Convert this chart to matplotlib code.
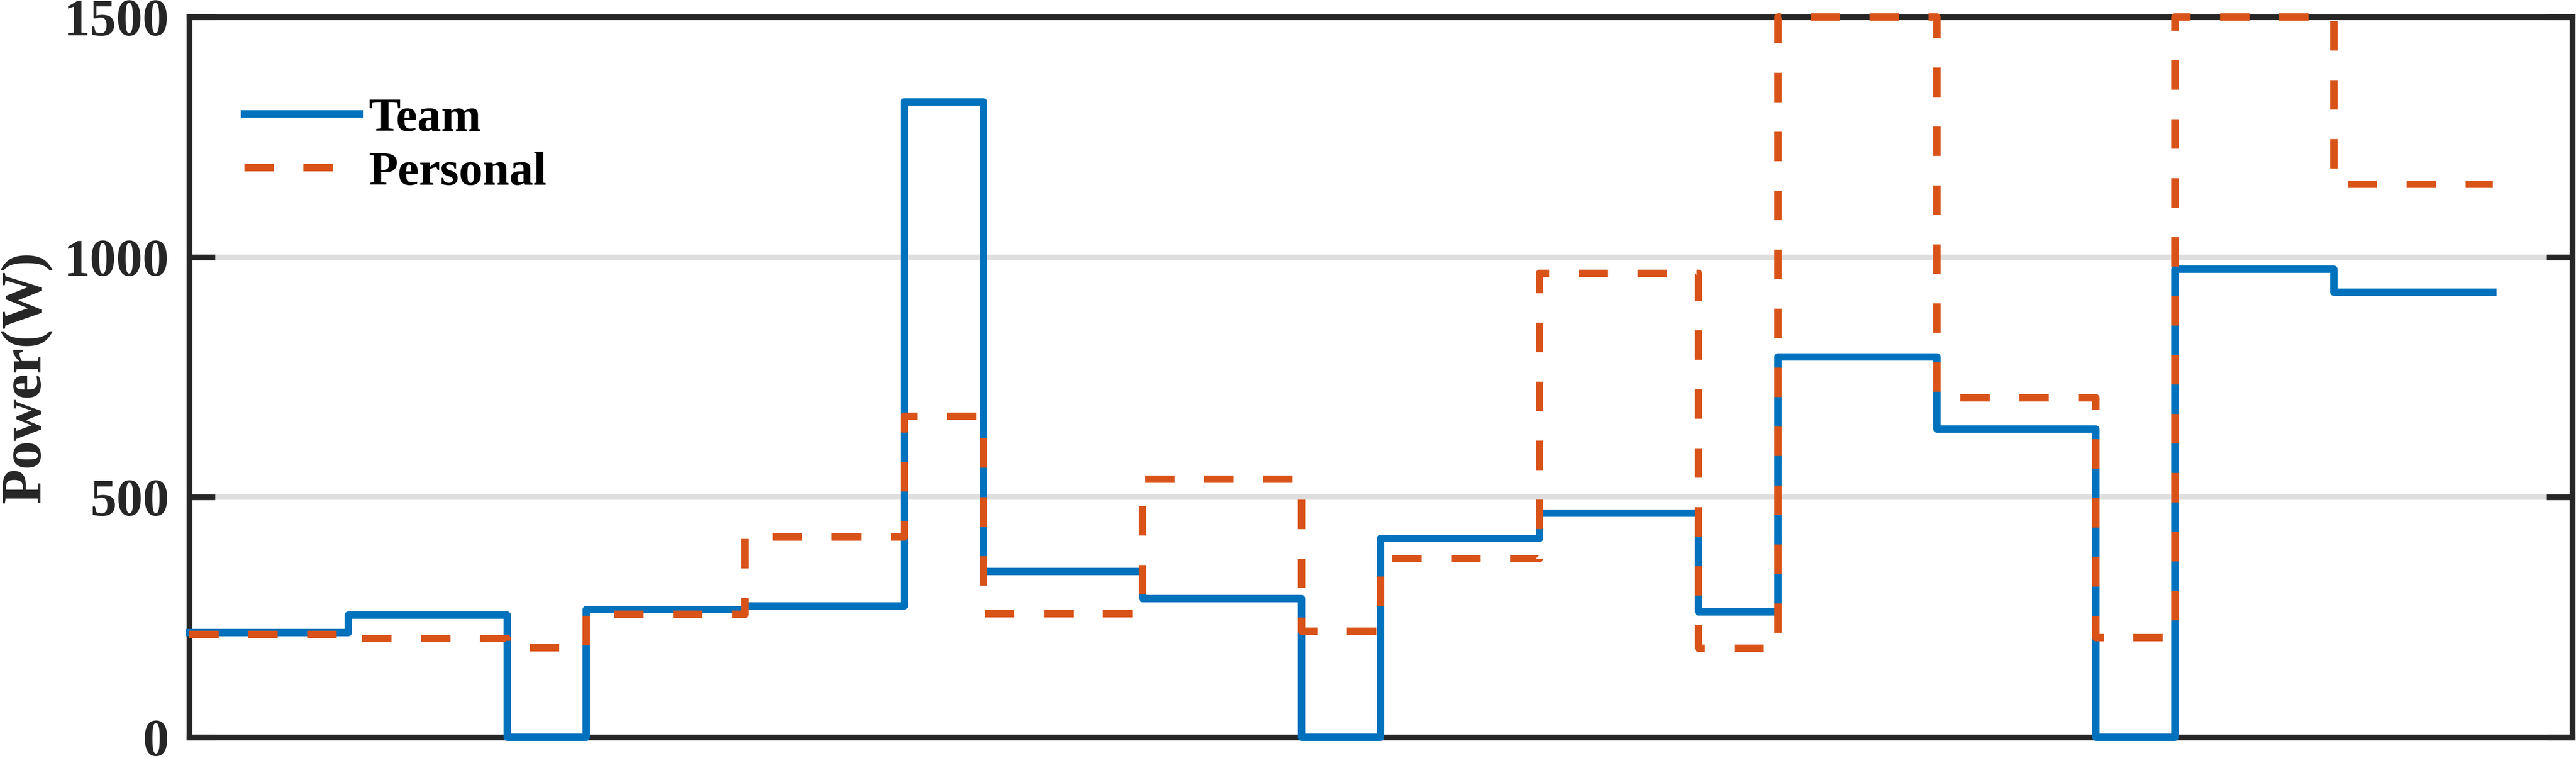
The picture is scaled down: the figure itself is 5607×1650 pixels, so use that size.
import matplotlib
matplotlib.use("Agg")
import matplotlib.pyplot as plt

# Границы интервалов (ступенек) по оси X
edges = [0, 2, 4, 5, 7, 9, 10, 12, 14, 15, 17, 19, 20, 22, 24, 25, 27, 29]
# Мощность на каждом интервале, Вт
team = [218, 254, 0, 266, 274, 1323, 345, 289, 0, 414, 467, 261, 792, 642, 0, 975, 927]
personal = [214, 206, 187, 256, 417, 669, 257, 538, 221, 372, 966, 186, 1500, 707, 208, 1500, 1152]
labels = ["Team", "Personal"]
yticks = [0, 500, 1000, 1500]

plt.rcParams["font.family"] = "Liberation Serif"
plt.rcParams["font.weight"] = "bold"

fig = plt.figure(figsize=(5608 / 300, 1650 / 300), dpi=300)
ax = fig.add_axes([412 / 5608, 45 / 1650, 5187 / 5608, 1568 / 1650])

# Ступенчатые графики
ax.step(edges, team + [team[-1]], where="post", color="#0072BD", lw=3.85,
        label=labels[0], zorder=3, clip_on=False, solid_joinstyle="round")
ax.step(edges, personal + [personal[-1]], where="post", color="#D95319", lw=3.85,
        dashes=(4, 4), label=labels[1], zorder=3, clip_on=False,
        dash_joinstyle="round")

ax.set_xlim(0, 30)
ax.set_ylim(0, 1500)
ax.set_xticks([])
ax.set_yticks(yticks)

ax.set_axisbelow(True)
ax.yaxis.grid(True, color="#dedede", lw=2.8)

for s in ax.spines.values():
    s.set_color("#262626")
    s.set_linewidth(3)

ax.tick_params(axis="y", direction="in", length=13.4, width=3, left=True, right=True,
               pad=10.5, labelsize=27.5, colors="#262626")

ax.set_ylabel("Power(W)", fontsize=30, fontweight="bold", color="#262626")
ax.yaxis.set_label_coords(-0.0575, 0.5)

ax.legend(loc="upper left", bbox_to_anchor=(0.0231, 0.8885), frameon=False, fontsize=25,
          handlelength=2.4, handletextpad=0.2, labelspacing=0.21, borderpad=0,
          borderaxespad=0)

fig.savefig("out.png", dpi=300)
